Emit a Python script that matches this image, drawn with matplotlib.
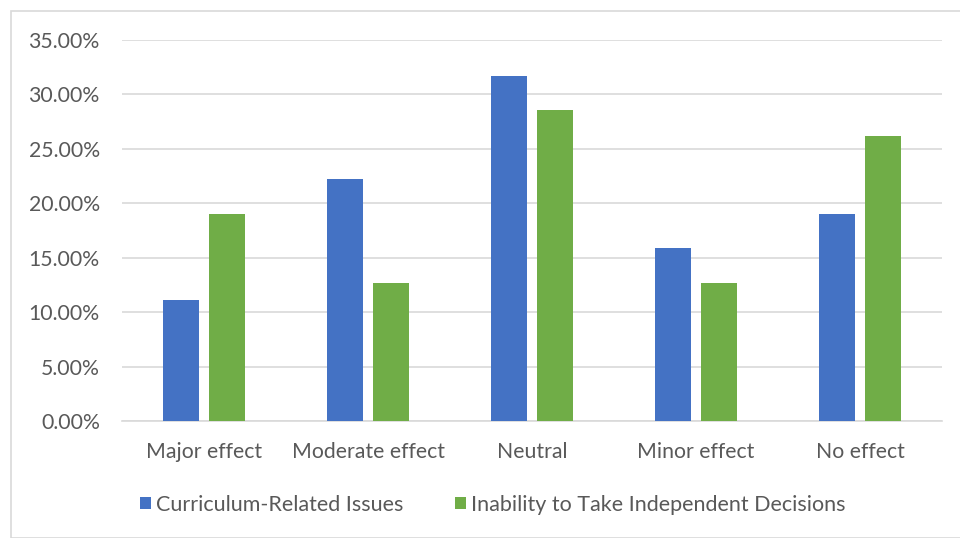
import matplotlib
matplotlib.use("Agg")
import matplotlib.pyplot as plt
from matplotlib.patches import Rectangle
import numpy as np

categories = ["Major effect", "Moderate effect", "Neutral", "Minor effect", "No effect"]
curriculum = [11.1, 22.2, 31.7, 15.9, 19.0]
inability = [19.0, 12.7, 28.6, 12.7, 26.2]
series_names = ["Curriculum-Related Issues", "Inability to Take Independent Decisions"]
yticks = [0, 5, 10, 15, 20, 25, 30, 35]

plt.rcParams['font.family'] = ['Lato', 'DejaVu Sans']
W, H = 960, 538
fig = plt.figure(figsize=(W/100, H/100), dpi=100)
fig.patches.append(Rectangle((11/W, 0), 1.0, 1 - 11/H, transform=fig.transFigure,
                             fill=False, edgecolor='#D9D9D9', linewidth=1.2))
ax = fig.add_axes([122/W, (H-421)/H, (942-122)/W, (421-40)/H])

x = np.arange(len(categories))
bw = 0.22
off = 0.143
ax.bar(x - off, curriculum, bw, color='#4472C4', label=series_names[0], zorder=3)
ax.bar(x + off, inability, bw, color='#70AD47', label=series_names[1], zorder=3)

ax.set_xlim(-0.5, len(categories) - 0.5)
ax.set_ylim(0, 35)
ax.set_yticks(yticks)
ax.set_yticklabels([f"{v:.2f}%" for v in yticks])
ax.set_xticks(x)
ax.set_xticklabels(categories)
ax.yaxis.grid(True, color='#D9D9D9', linewidth=1.2, zorder=0)
for s in ['top', 'right', 'left']:
    ax.spines[s].set_visible(False)
ax.spines['bottom'].set_color('#D9D9D9')
ax.spines['bottom'].set_linewidth(1.2)
ax.tick_params(axis='both', length=0, colors='#595959', labelsize=15.3)
ax.tick_params(axis='y', pad=16)
ax.tick_params(axis='x', pad=15)

leg = fig.legend(loc='center', bbox_to_anchor=(493/W, (H-505)/H), ncol=2, frameon=False,
                 fontsize=15.5, handlelength=0.5, handleheight=0.5, handletextpad=0.25,
                 columnspacing=2.4)
for t in leg.get_texts():
    t.set_color('#595959')

fig.savefig("out.png", dpi=100)
